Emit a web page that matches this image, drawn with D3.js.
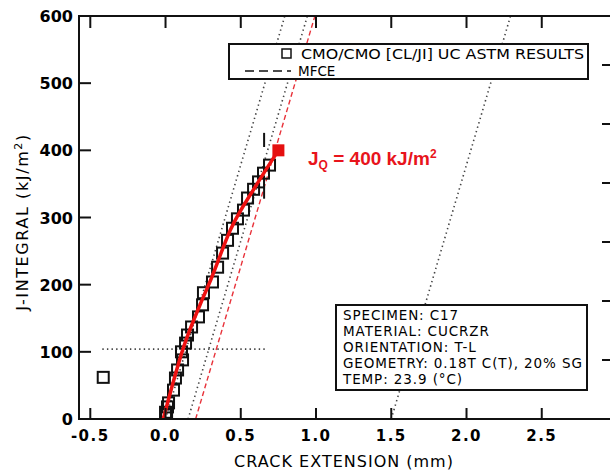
<!DOCTYPE html>
<html><head><meta charset="utf-8">
<script src="https://cdn.jsdelivr.net/npm/d3@7"></script>
<style>body{margin:0;background:#fff}svg{display:block}</style>
</head><body><svg id="c" width="610" height="473"></svg>
<script>
// ---- data ----
const xTicks = [-0.5, 0, 0.5, 1, 1.5, 2, 2.5];
const xTickLabels = ["-0.5", "0.0", "0.5", "1.0", "1.5", "2.0", "2.5"];
const yTicks = [0, 100, 200, 300, 400, 500, 600];
const rightTicks = [1, 2, 3, 4, 5, 6];
const dataX = [0.691,0.651,0.618,0.585,0.545,0.518,0.478,0.445,0.412,0.379,0.346,0.312,0.252,0.246,0.219,0.173,0.146,0.133,0.106,0.113,0.080,0.066,0.053,0.020,0.013,0.000,0.007,-0.414];
const dataJ = [378,366,353,342,329,311,298,284,266,247,226,204,188,170,152,137,125,113,100,88,73,61,43,24,18,10,6,62];
const fitX = [-0.015, 0.12, 0.25, 0.30, 0.43, 0.60, 0.75];
const fitJ = [0, 107, 181, 207, 281, 347, 400];
const jqX = 0.75, jqJ = 400;
const bluntSlope = 757;            // kJ/m2 per mm
const dottedOffsets = [0, 0.15, 1.5];
const dashedOffset = 0.2;
const jMinLine = {x0: -0.42, x1: 0.665, J: 104};
const markerX = 0.655;
const markerRanges = [[405, 426], [328, 346]];
const legendLabels = ["CMO/CMO [CL/JI] UC ASTM RESULTS", "MFCE"];
const infoLines = ["SPECIMEN: C17", "MATERIAL: CUCRZR", "ORIENTATION: T-L", "GEOMETRY: 0.18T C(T), 20% SG", "TEMP: 23.9 (\u00B0C)"];

// ---- chart ----
const svg = d3.select("#c");
const L = 79, R = 617, T = 16, B = 419;
const x = d3.scaleLinear().domain([-0.575, 3.0]).range([L, R]);
const y = d3.scaleLinear().domain([0, 600]).range([B, T]);
const y2 = d3.scaleLinear().domain([0, 6.83]).range([B, T]);
const HF = "'DejaVu Sans', sans-serif";

const defs = svg.append("defs");
defs.append("clipPath").attr("id", "clip").append("rect")
  .attr("x", L).attr("y", T).attr("width", R - L).attr("height", B - T);

const plot = svg.append("g").attr("clip-path", "url(#clip)");

// reference lines
dottedOffsets.forEach(o => {
  plot.append("line")
    .attr("x1", x(o)).attr("y1", y(0))
    .attr("x2", x(o + 600 / bluntSlope)).attr("y2", y(600))
    .attr("stroke", "#444").attr("stroke-width", 1.6)
    .attr("stroke-dasharray", "1.4,3.2");
});
plot.append("line")
  .attr("x1", x(dashedOffset)).attr("y1", y(0))
  .attr("x2", x(dashedOffset + 600 / bluntSlope)).attr("y2", y(600))
  .attr("stroke", "#e8323a").attr("stroke-width", 1.4)
  .attr("stroke-dasharray", "5,3");
plot.append("line")
  .attr("x1", x(jMinLine.x0)).attr("x2", x(jMinLine.x1))
  .attr("y1", y(jMinLine.J)).attr("y2", y(jMinLine.J))
  .attr("stroke", "#444").attr("stroke-width", 1.6)
  .attr("stroke-dasharray", "1.4,3.2");

// data squares
const S = 11;
plot.selectAll("rect.pt").data(dataX.map((d, i) => [d, dataJ[i]])).enter()
  .append("rect").attr("class", "pt")
  .attr("x", d => x(d[0]) - S / 2).attr("y", d => y(d[1]) - S / 2)
  .attr("width", S).attr("height", S)
  .attr("fill", "none").attr("stroke", "#111").attr("stroke-width", 2);

// vertical markers
markerRanges.forEach(r => {
  plot.append("line").attr("x1", x(markerX)).attr("x2", x(markerX))
    .attr("y1", y(r[0])).attr("y2", y(r[1]))
    .attr("stroke", "#111").attr("stroke-width", 2);
});

// fit line
plot.append("path")
  .datum(fitX.map((d, i) => [d, fitJ[i]]))
  .attr("d", d3.line().x(d => x(d[0])).y(d => y(d[1])).curve(d3.curveMonotoneX))
  .attr("fill", "none").attr("stroke", "#ee1111").attr("stroke-width", 3.5);

// JQ point
plot.append("rect").attr("x", x(jqX) - 6).attr("y", y(jqJ) - 6)
  .attr("width", 12).attr("height", 12).attr("fill", "#e51010");

// axes frame
const ax = svg.append("g").attr("stroke", "#111").attr("stroke-width", 2).attr("fill", "none");
ax.append("rect").attr("x", L).attr("y", T).attr("width", R - L).attr("height", B - T);
xTicks.forEach(t => {
  ax.append("line").attr("x1", x(t)).attr("x2", x(t)).attr("y1", B).attr("y2", B - 11);
  ax.append("line").attr("x1", x(t)).attr("x2", x(t)).attr("y1", T).attr("y2", T + 12);
});
yTicks.forEach(t => {
  ax.append("line").attr("x1", L).attr("x2", L + 12).attr("y1", y(t)).attr("y2", y(t));
});
rightTicks.forEach(t => {
  ax.append("line").attr("x1", R).attr("x2", R - 15).attr("y1", y2(t)).attr("y2", y2(t));
});

// tick labels
svg.append("g").selectAll("text").data(xTicks).enter().append("text")
  .attr("x", d => x(d)).attr("y", 441)
  .attr("text-anchor", "middle")
  .attr("font-family", HF).attr("font-weight", "bold").attr("font-size", 15)
  .attr("letter-spacing", 1.5)
  .text((d, i) => xTickLabels[i]);
svg.append("g").selectAll("text").data(yTicks).enter().append("text")
  .attr("x", 73).attr("y", d => y(d) + 6)
  .attr("text-anchor", "end")
  .attr("font-family", HF).attr("font-weight", "bold").attr("font-size", 16)
  .text(d => d);

// axis titles
svg.append("text").attr("x", 344).attr("y", 467).attr("text-anchor", "middle")
  .attr("font-family", HF).attr("font-size", 16).attr("letter-spacing", 1)
  .text("CRACK EXTENSION (mm)");
const yt = svg.append("text").attr("transform", "translate(28,222) rotate(-90)")
  .attr("text-anchor", "middle")
  .attr("font-family", HF).attr("font-size", 16).attr("letter-spacing", 1.6);
yt.append("tspan").text("J-INTEGRAL (kJ/m");
yt.append("tspan").attr("dy", -6).attr("font-size", 11).text("2");
yt.append("tspan").attr("dy", 6).text(")");

// legend
const lg = svg.append("g");
lg.append("rect").attr("x", 229).attr("y", 44).attr("width", 359).attr("height", 35)
  .attr("fill", "#fff").attr("stroke", "#111").attr("stroke-width", 2);
lg.append("rect").attr("x", 282).attr("y", 49).attr("width", 9).attr("height", 9)
  .attr("fill", "none").attr("stroke", "#111").attr("stroke-width", 1.5);
lg.append("line").attr("x1", 245).attr("x2", 291).attr("y1", 71).attr("y2", 71)
  .attr("stroke", "#111").attr("stroke-width", 1.6).attr("stroke-dasharray", "9,5");
lg.append("text").attr("x", 301).attr("y", 59)
  .attr("font-family", HF).attr("font-size", 13.5).attr("textLength", 283).attr("lengthAdjust", "spacingAndGlyphs")
  .text(legendLabels[0]);
lg.append("text").attr("x", 298).attr("y", 76)
  .attr("font-family", HF).attr("font-size", 13.5)
  .text(legendLabels[1]);

// info box
const ib = svg.append("g");
ib.append("rect").attr("x", 336).attr("y", 305).attr("width", 251).attr("height", 85)
  .attr("fill", "#fff").attr("stroke", "#111").attr("stroke-width", 2);
ib.selectAll("text").data(infoLines).enter().append("text")
  .attr("x", 343).attr("y", (d, i) => 320 + i * 16)
  .attr("font-family", HF).attr("font-size", 13.5).attr("letter-spacing", 0.9)
  .text(d => d);

// JQ label
const jl = svg.append("text").attr("x", 308).attr("y", 165)
  .attr("font-family", "'Liberation Sans', Arial, sans-serif").attr("font-weight", "bold")
  .attr("font-size", 19).attr("fill", "#e8141c");
jl.append("tspan").text("J");
jl.append("tspan").attr("dy", 4).attr("font-size", 12).text("Q");
jl.append("tspan").attr("dy", -4).text(" = 400 kJ/m");
jl.append("tspan").attr("dy", -7).attr("font-size", 12).text("2");
</script></body></html>
